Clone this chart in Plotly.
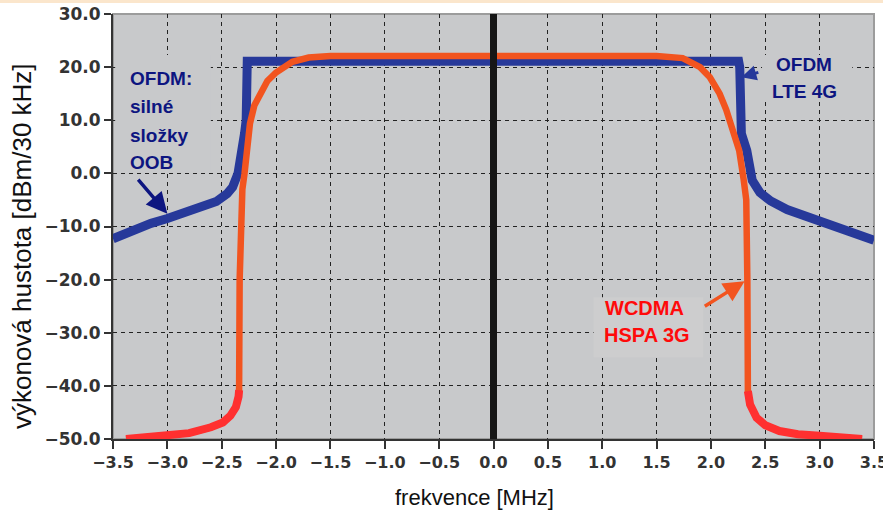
import plotly.graph_objects as go

# ---------------- data ----------------
# OFDM LTE 4G spectrum (blue)
ofdm_x = [-3.5, -3.3, -3.15, -3.0, -2.77, -2.65, -2.55, -2.45, -2.4, -2.35, -2.31, -2.29, -2.275, -2.265,
          -2.0, -1.0, 0.0, 1.0, 2.0, 2.255,
          2.265, 2.28, 2.33, 2.38, 2.45, 2.55, 2.7, 3.0, 3.25, 3.5]
ofdm_y = [-12.3, -10.4, -9.4, -8.5, -7.0, -6.2, -5.3, -3.8, -2.6, 0.0, 4.0, 7.5, 10.0, 21.1,
          21.1, 21.1, 21.1, 21.1, 21.1, 21.1,
          20.0, 7.5, 4.3, -1.3, -3.6, -5.2, -6.8, -8.9, -10.8, -12.6]

# WCDMA HSPA 3G spectrum (orange / red tails)
wcdma_x = [-3.38, -3.04, -2.8, -2.6, -2.49, -2.42, -2.37, -2.345, -2.34, -2.335, -2.31, -2.29,
           -2.27, -2.24, -2.2, -2.15, -2.08, -2.0, -1.85, -1.7, -1.5,
           0.0, 1.5, 1.74, 1.9, 1.99, 2.08, 2.14, 2.2, 2.26, 2.3, 2.325, 2.335, 2.34,
           2.36, 2.42, 2.5, 2.63, 2.8, 3.0, 3.2, 3.39]
wcdma_y = [-50.0, -49.4, -48.9, -47.8, -46.9, -45.6, -44.0, -42.0, -40.8, -20.0, -3.0, 0.0,
           4.9, 9.4, 12.8, 15.0, 17.4, 19.0, 21.0, 21.8, 22.1,
           22.1, 22.1, 21.7, 20.0, 18.1, 15.0, 12.0, 8.0, 4.3, -1.0, -5.0, -20.0, -41.0,
           -43.5, -46.0, -47.4, -48.5, -49.1, -49.4, -49.7, -50.0]

x_ticks = [-3.5, -3.0, -2.5, -2.0, -1.5, -1.0, -0.5, 0.0, 0.5, 1.0, 1.5, 2.0, 2.5, 3.0, 3.5]
y_ticks = [30, 20, 10, 0, -10, -20, -30, -40, -50]

x_title = "frekvence [MHz]"
y_title = "výkonová hustota [dBm/30 kHz]"

# ---------------- styles ----------------
BLUE = "#27399A"
NAVY = "#0D1580"
ORANGE = "#F2541F"
RED = "#FF3030"
RED_TXT = "#FF0A0A"
PLOT_BG = "#C8C9CB"

# red tail segments (low part of WCDMA curve)
tail_x, tail_y = [], []
prev_in = False
for xv, yv in zip(wcdma_x, wcdma_y):
    inside = yv <= -40.5
    if inside:
        tail_x.append(xv)
        tail_y.append(yv)
    elif prev_in:
        tail_x.append(None)
        tail_y.append(None)
    prev_in = inside

fig = go.Figure()
fig.add_trace(go.Scatter(x=ofdm_x, y=ofdm_y, mode="lines",
                         line=dict(color=BLUE, width=9), showlegend=False))
fig.add_trace(go.Scatter(x=wcdma_x, y=wcdma_y, mode="lines",
                         line=dict(color=ORANGE, width=6.5), showlegend=False))
fig.add_trace(go.Scatter(x=tail_x, y=tail_y, mode="lines",
                         line=dict(color=RED, width=8), showlegend=False))

shapes = []
# text boxes hiding the grid
shapes.append(dict(type="rect", xref="x", yref="y", x0=-3.48, x1=-2.6, y0=0.6, y1=22.3,
                   fillcolor=PLOT_BG, line=dict(width=0), layer="between"))
shapes.append(dict(type="rect", xref="x", yref="y", x0=2.47, x1=3.3, y0=13.8, y1=22.3,
                   fillcolor=PLOT_BG, line=dict(width=0), layer="between"))
shapes.append(dict(type="rect", xref="x", yref="y", x0=0.92, x1=1.93, y0=-34.6, y1=-23.3,
                   fillcolor="#CDCDCE", line=dict(width=0), layer="between"))
# gray frame
shapes.append(dict(type="rect", xref="paper", yref="paper", x0=0, x1=1, y0=0, y1=1,
                   line=dict(color="#9C9C9C", width=2), layer="below"))
# centre line at 0 MHz
shapes.append(dict(type="line", xref="x", yref="paper", x0=0, x1=0, y0=0, y1=1,
                   line=dict(color="#161616", width=7), layer="above"))
# peach strip at the very top
shapes.append(dict(type="rect", xref="paper", yref="paper", x0=-0.2, x1=1.012, y0=1.026, y1=1.04,
                   fillcolor="#FBE6CC", line=dict(width=0), layer="above"))

annotations = []
# left label lines
for txt, yv in [("OFDM:", 17.8), ("silné", 12.5), ("složky", 7.1), ("OOB", 2.0)]:
    annotations.append(dict(x=-3.36, y=yv, xref="x", yref="y", text=txt, showarrow=False,
                            xanchor="left", yanchor="middle",
                            font=dict(family="Arial, Liberation Sans", size=19, color=NAVY, weight="bold")))
# right label lines
for txt, yv in [("OFDM", 20.5), ("LTE 4G", 15.4)]:
    annotations.append(dict(x=2.86, y=yv, xref="x", yref="y", text=txt, showarrow=False,
                            xanchor="center", yanchor="middle",
                            font=dict(family="Arial, Liberation Sans", size=19, color=NAVY, weight="bold")))
for txt, xv, yv in [("WCDMA", 1.39, -25.3), ("HSPA 3G", 1.41, -30.5)]:
    annotations.append(dict(x=xv, y=yv, xref="x", yref="y", text=txt, showarrow=False,
                            xanchor="center", yanchor="middle",
                            font=dict(family="Arial, Liberation Sans", size=20, color=RED_TXT, weight="bold")))
# arrows
annotations.append(dict(x=-3.0, y=-7.6, ax=-3.28, ay=-0.9, xref="x", yref="y", axref="x", ayref="y",
                        text="", showarrow=True, arrowhead=2, arrowsize=1.2, arrowwidth=3.5,
                        arrowcolor=NAVY))
annotations.append(dict(x=2.31, y=-20.3, ax=1.93, ay=-25.2, xref="x", yref="y", axref="x", ayref="y",
                        text="", showarrow=True, arrowhead=2, arrowsize=1.2, arrowwidth=3.5,
                        arrowcolor=ORANGE))
annotations.append(dict(x=2.28, y=18.1, ax=2.45, ay=19.1, xref="x", yref="y", axref="x", ayref="y",
                        text="", showarrow=True, arrowhead=2, arrowsize=1.0, arrowwidth=3,
                        arrowcolor=BLUE))
# axis titles
annotations.append(dict(x=0.4744, y=-0.1365, xref="paper", yref="paper", text=x_title,
                        showarrow=False, xanchor="center", yanchor="middle",
                        font=dict(family="Arial, Liberation Sans", size=22, color="#111111")))
annotations.append(dict(x=-0.1196, y=0.454, xref="paper", yref="paper", text=y_title,
                        showarrow=False, xanchor="center", yanchor="middle", textangle=-90,
                        font=dict(family="Arial, Liberation Sans", size=26, color="#111111")))

fig.update_layout(
    width=883, height=517,
    margin=dict(l=113, r=9, t=14, b=78, autoexpand=False),
    paper_bgcolor="white", plot_bgcolor=PLOT_BG,
    shapes=shapes, annotations=annotations,
    showlegend=False,
)
fig.update_xaxes(range=[-3.5, 3.5], tickvals=x_ticks, tickformat=".1f", automargin=False,
                 ticklabeloverflow="allow",
                 showgrid=True, gridcolor="#222222", gridwidth=1, griddash="4px,4px",
                 zeroline=False, showline=True, linecolor="#333333", linewidth=2,
                 ticks="outside", ticklen=8, tickwidth=2, tickcolor="#333333",
                 tickfont=dict(family="DejaVu Sans", size=16, color="#333333", weight="bold"))
fig.update_yaxes(range=[-50, 30], tickvals=y_ticks, tickformat=".1f", automargin=False,
                 showgrid=True, gridcolor="#222222", gridwidth=1, griddash="4px,4px",
                 zeroline=False, showline=True, linecolor="#333333", linewidth=2,
                 ticks="outside", ticklen=7, tickwidth=2, tickcolor="#333333",
                 tickfont=dict(family="DejaVu Sans", size=17, color="#333333", weight="bold"))

fig.write_html("out.html", config={"displayModeBar": False},
               post_script="document.body.style.margin='0';document.body.style.overflow='hidden';")
